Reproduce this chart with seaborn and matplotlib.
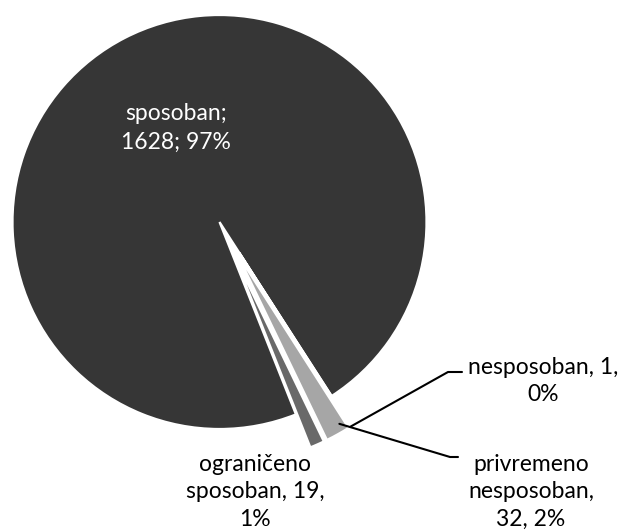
import numpy as np
import matplotlib
matplotlib.use('Agg')
import matplotlib.pyplot as plt
import seaborn as sns

# data
categories = ['sposoban', 'ograničeno sposoban', 'privremeno nesposoban', 'nesposoban']
counts = [1628, 19, 32, 1]
percents = ['97%', '1%', '2%', '0%']
slice_colors = ['#363636', '#696969', '#a6a6a6', '#d9d9d9']
exploded = [0, 36, 36, 36]

sns.set_theme(style='white')
plt.rcParams['font.family'] = ['Lato', 'DejaVu Sans']
plt.rcParams['font.size'] = 16.5

W, H = 620, 530
fig = plt.figure(figsize=(W / 100, H / 100), dpi=100)
ax = fig.add_axes([0, 0, 1, 1])

cx, cy, r = 219.5, H - 222, 207
wedges, _ = ax.pie(counts, colors=slice_colors, explode=exploded, center=(cx, cy),
                   radius=r, startangle=-57.2, counterclock=True,
                   wedgeprops=dict(edgecolor='white', linewidth=1.6))
ax.set_xlim(0, W)
ax.set_ylim(0, H)
ax.set_aspect('equal')
ax.axis('off')


def tip(w, frac):
    # point on the outer arc of a wedge
    ang = np.deg2rad(w.theta1 + frac * (w.theta2 - w.theta1))
    return w.center[0] + w.r * np.cos(ang), w.center[1] + w.r * np.sin(ang)


# label inside the big slice
ax.text(176, H - 128, '{};\n{}; {}'.format(categories[0], counts[0], percents[0]),
        color='white', ha='center', va='center', linespacing=1.5)

# outside labels
ax.text(255, H - 492, 'ograničeno\nsposoban, {},\n{}'.format(counts[1], percents[1]),
        ha='center', va='center', linespacing=1.4, color='black')
ax.text(531, H - 492, 'privremeno\nnesposoban,\n{}, {}'.format(counts[2], percents[2]),
        ha='center', va='center', linespacing=1.4, color='black')
ax.text(543, H - 381, '{}, {},\n{}'.format(categories[3], counts[3], percents[3]),
        ha='center', va='center', linespacing=1.4, color='black')

# leader lines
x0, y0 = tip(wedges[3], 0.5)
ax.plot([x0, 448, 462], [y0, H - 372, H - 372], color='black', lw=1.5)
x1, y1 = tip(wedges[2], 0.85)
ax.plot([x1 - 6, 450, 458], [y1 + 6, H - 457, H - 457], color='black', lw=1.5)

fig.savefig('out.png', dpi=100)
